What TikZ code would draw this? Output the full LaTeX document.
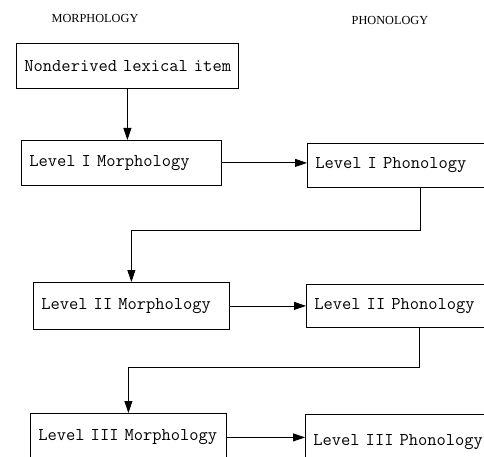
\documentclass[tikz,border=0pt]{standalone}
\usepackage{fontspec}
\setmainfont{Liberation Serif}
\usetikzlibrary{arrows.meta}
\protected\def\letracaja{\ttfamily\fontsize{18}{20}\selectfont}

\begin{document}
\begin{tikzpicture}[x=1pt,y=1pt,
    caja/.style={draw, line width=0.8pt, anchor=north west, align=left,
      inner xsep=8pt, text width=#1, font=\letracaja},
    flecha/.style={line width=0.8pt, -{Triangle[length=12pt,width=8pt]}},
    titulo/.style={font=\fontsize{12.3}{14}\selectfont}]
    \useasboundingbox (0,0) rectangle (484,-457);
    \clip (0,0) rectangle (484,-457);

    % Encabezados
    \node[titulo] (morf) at (95,-18) {MORPHOLOGY};
    \node[titulo] (fon) at (390,-20) {PHONOLOGY};

    % Columna de morfologia
    \node[caja=206pt, minimum height=45pt] (lex) at (16,-43) {\mbox{Nonderived lexical item}};
    \node[caja=184pt, minimum height=45pt] (m1) at (21,-140) {\mbox{Level I Morphology}};
    \node[caja=180pt, minimum height=47pt] (m2) at (33,-282) {\mbox{Level II Morphology}};
    \node[caja=180pt, minimum height=48pt] (m3) at (30,-413) {\mbox{Level III Morphology}};

    % Columna de fonologia
    \node[caja=210pt, minimum height=44pt] (p1) at (307,-143) {\mbox{Level I Phonology}};
    \node[caja=210pt, minimum height=43pt] (p2) at (306,-284) {\mbox{Level II Phonology}};
    \node[caja=210pt, minimum height=56pt] (p3) at (305,-414) {\mbox{Level III Phonology}};

    % Flechas
    \draw[flecha] (lex.south) -- (lex.south |- m1.north);
    \draw[flecha] (m1.east) -- (m1.east -| p1.west);
    \draw[flecha] (p1.south) -- ++(0,-43) -| (m2.north);
    \draw[flecha] (m2.east) -- (m2.east -| p2.west);
    \draw[flecha] (p2.south) -- ++(0,-40) -| (m3.north);
    \draw[flecha] (m3.east) -- (m3.east -| p3.west);
  \end{tikzpicture}
\end{document}
